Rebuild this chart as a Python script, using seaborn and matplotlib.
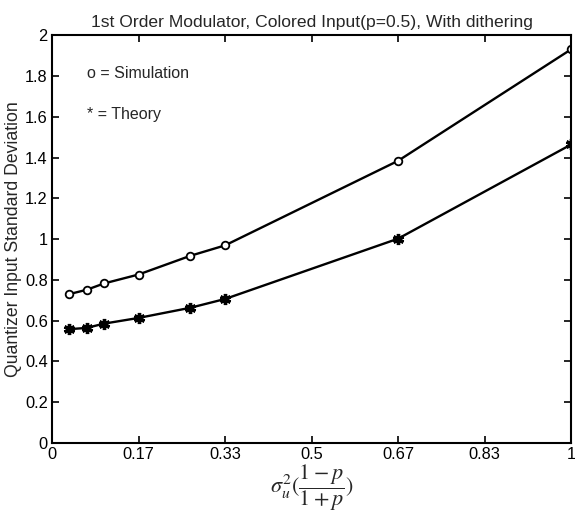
import matplotlib
matplotlib.use("Agg")
import matplotlib.pyplot as plt
import seaborn as sns
import numpy as np
import pandas as pd

x_vals = [1/30, 2/30, 3/30, 5/30, 8/30, 10/30, 20/30, 1.0]
sim_vals = [0.730, 0.751, 0.782, 0.826, 0.918, 0.969, 1.384, 1.931]
theory_vals = [0.558, 0.564, 0.585, 0.613, 0.663, 0.706, 1.002, 1.464]
xtick_pos = [0, 1/6, 2/6, 3/6, 4/6, 5/6, 1]
xtick_labels = ["0", "0.17", "0.33", "0.5", "0.67", "0.83", "1"]
ytick_pos = [0, 0.2, 0.4, 0.6, 0.8, 1.0, 1.2, 1.4, 1.6, 1.8, 2.0]
ytick_labels = ["0", "0.2", "0.4", "0.6", "0.8", "1", "1.2", "1.4", "1.6", "1.8", "2"]

sns.set_style("ticks")
plt.rcParams['font.family'] = ['Liberation Sans', 'DejaVu Sans']
plt.rcParams['mathtext.fontset'] = 'stix'

df_sim = pd.DataFrame({"x": x_vals, "y": sim_vals})
df_th = pd.DataFrame({"x": x_vals, "y": theory_vals})

fig = plt.figure(figsize=(5.75, 5.18), dpi=100)
ax = fig.add_axes([0.0904, 0.145, 0.903, 0.787])

sns.lineplot(data=df_sim, x="x", y="y", ax=ax, color="black", linewidth=1.7,
             marker="o", markersize=5.5, markerfacecolor="white",
             markeredgecolor="black", markeredgewidth=1.3)
sns.lineplot(data=df_th, x="x", y="y", ax=ax, color="black", linewidth=1.7,
             marker=(6, 2, 0), markersize=8, markeredgecolor="black",
             markeredgewidth=2.4)

ax.set_xlim(0, 1)
ax.set_ylim(0, 2)
ax.set_xticks(xtick_pos)
ax.set_xticklabels(xtick_labels)
ax.set_yticks(ytick_pos)
ax.set_yticklabels(ytick_labels)
ax.tick_params(direction="in", top=True, right=True, length=5, width=1.2,
               labelsize=11.8, colors="black", pad=3)
for s in ax.spines.values():
    s.set_visible(True)
    s.set_linewidth(1.5)
    s.set_color("black")

ax.set_xlabel(r"$\sigma_u^2(\dfrac{1-p}{1+p})$", fontsize=16, labelpad=0)
ax.set_ylabel("Quantizer Input Standard Deviation", fontsize=12.7, labelpad=2)
ax.set_title("1st Order Modulator, Colored Input(p=0.5), With dithering",
             fontsize=12.6, pad=6)

ax.text(0.068, 1.81, "o = Simulation", fontsize=11.5, va="center", ha="left")
ax.text(0.068, 1.61, "* = Theory", fontsize=11.5, va="center", ha="left")

fig.savefig("out.png", dpi=100)
